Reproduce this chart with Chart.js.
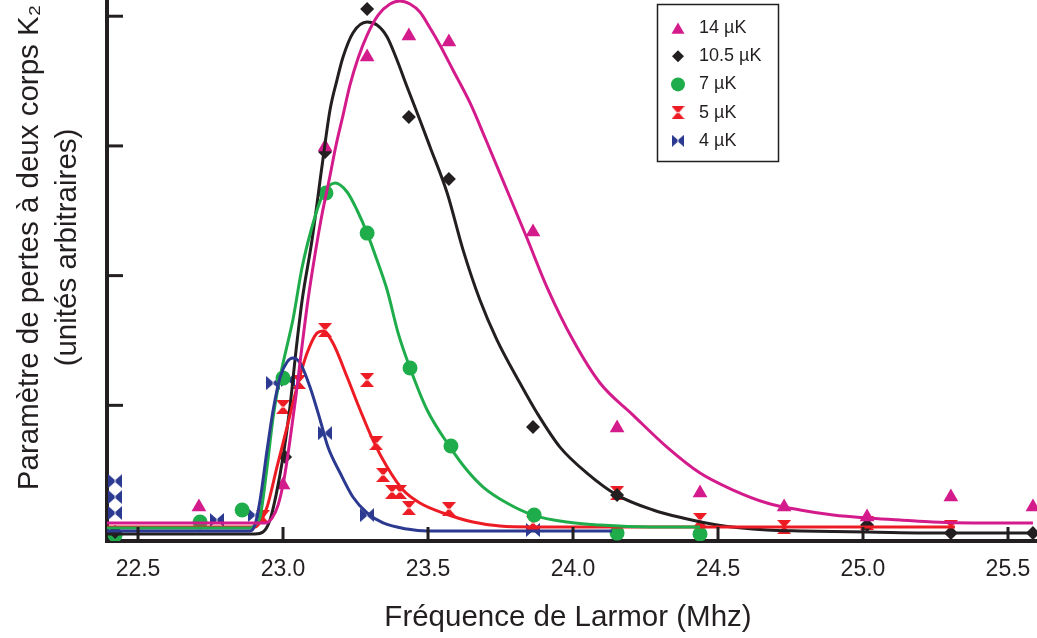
<!DOCTYPE html>
<html><head><meta charset="utf-8">
<script src="https://cdn.jsdelivr.net/npm/chart.js@4/dist/chart.umd.min.js"></script>
<style>html,body{margin:0;padding:0;background:#fff;}#wrap{width:1037px;height:638px;position:relative;}</style>
</head><body><div id="wrap"><canvas id="c" width="1037" height="638"></canvas></div>
<script>
const seriesNames = ['14 µK', '10.5 µK', '7 µK', '5 µK', '4 µK'];
const xTickValues = [22.5, 23.0, 23.5, 24.0, 24.5, 25.0, 25.5];
const yTickValues = [1, 2, 3, 4];
const xTitle = 'Fréquence de Larmor (Mhz)';
const yTitle = ['Paramètre de pertes à deux corps K₂', '(unités arbitraires)'];

// measured points [MHz, arbitrary units]
const m14 = [[22.710,0.216],[23.000,0.386],[23.145,2.992],[23.290,3.685],[23.434,3.847],[23.572,3.801],[23.862,2.336],[24.152,0.825],[24.438,0.324],[24.728,0.216],[25.014,0.139],[25.303,0.293],[25.586,0.216]];
const m10 = [[22.421,0.023],[23.007,0.601],[23.145,2.953],[23.290,4.056],[23.434,3.223],[23.572,2.745],[23.862,0.833],[24.152,0.308],[25.014,0.077],[25.303,0.015],[25.586,0.015]];
const m7 = [[22.421,0.000],[22.714,0.100],[22.859,0.193],[23.000,1.210],[23.148,2.637],[23.290,2.328],[23.438,1.288],[23.579,0.686],[23.866,0.154],[24.152,0.015],[24.438,0.008]];
const m5 = [[22.931,0.139],[23.000,0.987],[23.055,1.180],[23.145,1.581],[23.290,1.195],[23.321,0.709],[23.345,0.463],[23.376,0.332],[23.403,0.332],[23.434,0.208],[23.572,0.200],[23.862,0.093],[24.152,0.324],[24.438,0.116],[24.728,0.062],[25.014,0.093],[25.303,0.062]];
const m4 = [[22.421,0.416],[22.421,0.293],[22.421,0.170],[22.772,0.116],[22.903,0.154],[22.966,1.172],[23.017,1.195],[23.145,0.786],[23.290,0.154],[23.862,0.039]];

// fitted curves
const fit14 = [[22.393,0.093],[22.938,0.093],[22.962,0.131],[22.983,0.231],[23.003,0.424],[23.024,0.732],[23.045,1.079],[23.066,1.465],[23.086,1.812],[23.110,2.159],[23.134,2.467],[23.159,2.737],[23.183,3.007],[23.207,3.238],[23.231,3.470],[23.259,3.678],[23.290,3.855],[23.328,4.009],[23.369,4.094],[23.403,4.117],[23.438,4.094],[23.472,4.032],[23.507,3.909],[23.541,3.778],[23.586,3.585],[23.645,3.331],[23.697,3.061],[23.772,2.660],[23.841,2.290],[23.910,1.912],[24.000,1.503],[24.093,1.172],[24.207,0.925],[24.324,0.678],[24.438,0.478],[24.552,0.347],[24.669,0.247],[24.783,0.193],[24.897,0.154],[25.014,0.131],[25.128,0.116],[25.241,0.100],[25.379,0.093],[25.586,0.093]];
const fit10 = [[22.393,0.008],[22.903,0.008],[22.931,0.023],[22.955,0.116],[22.976,0.308],[23.000,0.601],[23.024,0.990],[23.045,1.426],[23.066,1.812],[23.100,2.274],[23.134,2.837],[23.162,3.277],[23.186,3.508],[23.207,3.685],[23.241,3.871],[23.290,3.955],[23.324,3.932],[23.359,3.840],[23.393,3.662],[23.428,3.454],[23.472,3.200],[23.507,2.992],[23.566,2.637],[23.621,2.197],[23.679,1.812],[23.738,1.503],[23.817,1.172],[23.876,0.941],[23.955,0.678],[24.048,0.478],[24.152,0.308],[24.276,0.193],[24.379,0.131],[24.497,0.077],[24.669,0.039],[24.783,0.031],[25.014,0.023],[25.300,0.015],[25.586,0.015]];
const fit7 = [[22.393,0.054],[22.886,0.054],[22.910,0.093],[22.921,0.139],[22.945,0.524],[22.966,0.910],[22.990,1.218],[23.024,1.557],[23.034,1.658],[23.066,2.066],[23.100,2.375],[23.134,2.606],[23.179,2.714],[23.221,2.645],[23.255,2.506],[23.290,2.328],[23.324,2.120],[23.359,1.889],[23.397,1.557],[23.438,1.288],[23.497,0.964],[23.576,0.678],[23.634,0.501],[23.690,0.370],[23.772,0.247],[23.862,0.154],[23.979,0.100],[24.093,0.077],[24.266,0.062],[24.438,0.062]];
const fit5 = [[22.393,0.062],[22.903,0.062],[22.921,0.100],[22.945,0.216],[22.979,0.524],[23.014,0.833],[23.048,1.141],[23.083,1.403],[23.117,1.557],[23.138,1.573],[23.172,1.480],[23.221,1.218],[23.266,0.964],[23.310,0.732],[23.359,0.524],[23.414,0.347],[23.472,0.247],[23.552,0.170],[23.655,0.100],[23.748,0.069],[23.862,0.062],[25.317,0.062]];
const fit4 = [[22.393,0.031],[22.886,0.031],[22.903,0.077],[22.921,0.270],[22.945,0.655],[22.966,0.964],[22.990,1.218],[23.014,1.334],[23.034,1.365],[23.059,1.326],[23.093,1.141],[23.128,0.887],[23.155,0.678],[23.197,0.478],[23.241,0.293],[23.290,0.170],[23.345,0.093],[23.428,0.046],[23.497,0.031],[24.134,0.031]];

const colors = ['#d41b8c', '#231f20', '#1fad4b', '#ed1c24', '#2b3990'];
const axisColor = '#231f20';
const FONT = '"Liberation Sans", Arial, Helvetica, sans-serif';

function makeHourglass(color, s) {
  const c = document.createElement('canvas'); c.width = s; c.height = s;
  const g = c.getContext('2d'); g.fillStyle = color; g.beginPath();
  g.moveTo(0, 0); g.lineTo(s, 0); g.lineTo(s/2, s/2 + 1); g.closePath();
  g.moveTo(0, s); g.lineTo(s, s); g.lineTo(s/2, s/2 - 1); g.closePath(); g.fill();
  return c;
}
function makeBowtie(color, s) {
  const c = document.createElement('canvas'); c.width = s; c.height = s;
  const g = c.getContext('2d'); g.fillStyle = color; g.beginPath();
  g.moveTo(0, 0); g.lineTo(0, s); g.lineTo(s/2 + 1, s/2); g.closePath();
  g.moveTo(s, 0); g.lineTo(s, s); g.lineTo(s/2 - 1, s/2); g.closePath(); g.fill();
  return c;
}
const styles = ['triangle', 'rectRot', 'circle', makeHourglass(colors[3], 14), makeBowtie(colors[4], 14)];
const radii = [8.5, 7, 7.5, 7, 7];
const legendStyles = ['triangle', 'rectRot', 'circle', makeHourglass(colors[3], 13), makeBowtie(colors[4], 12)];
const legendRadii = [7.5, 6, 7, 6, 6];

const toXY = a => a.map(p => ({x: p[0], y: p[1]}));
const markers = [m14, m10, m7, m5, m4];
const fits = [fit14, fit10, fit7, fit5, fit4];
const lineOrder = [0, 4, 2, 3, 1];

const datasets = [];
fits.forEach((f, i) => datasets.push({
  label: seriesNames[i] + ' fit', data: toXY(f), showLine: true, pointRadius: 0, pointHoverRadius: 0,
  borderColor: colors[i], borderWidth: 3, cubicInterpolationMode: 'monotone', fill: false, order: lineOrder[i]
}));
markers.forEach((m, i) => datasets.push({
  label: seriesNames[i], data: toXY(m), showLine: false, pointStyle: styles[i], pointRadius: radii[i],
  pointBackgroundColor: colors[i], pointBorderWidth: 0, pointBorderColor: colors[i], order: 10 + i
}));

function shiftTitle(scale, dx, dy) {
  if (scale.__shifted) return;
  const orig = scale.drawTitle;
  scale.drawTitle = function () { this.ctx.save(); this.ctx.translate(dx, dy); orig.apply(this, arguments); this.ctx.restore(); };
  scale.__shifted = true;
}
function zeroPad(s) { s.paddingLeft = 0; s.paddingRight = 0; s.paddingTop = 0; s.paddingBottom = 0; }

const decor = {
  id: 'decor',
  beforeDraw(chart) {
    shiftTitle(chart.scales.y, 2, -23);
    shiftTitle(chart.scales.x, -4, 0);
  },
  afterDraw(chart) {
    const ctx = chart.ctx, xs = chart.scales.x, ys = chart.scales.y, a = chart.chartArea;
    ctx.save();
    ctx.strokeStyle = axisColor; ctx.lineWidth = 3; ctx.lineCap = 'butt';
    xTickValues.forEach(v => { const px = xs.getPixelForValue(v); ctx.beginPath(); ctx.moveTo(px, a.bottom); ctx.lineTo(px, a.bottom - 14); ctx.stroke(); });
    yTickValues.forEach(v => { const py = ys.getPixelForValue(v); ctx.beginPath(); ctx.moveTo(a.left, py); ctx.lineTo(a.left + 16, py); ctx.stroke(); });
    // legend
    const lx = 657.5, ly = 4.5, lw = 121, lh = 157;
    ctx.fillStyle = '#fff'; ctx.fillRect(lx, ly, lw, lh);
    ctx.lineWidth = 1.5; ctx.strokeStyle = axisColor; ctx.strokeRect(lx, ly, lw, lh);
    ctx.font = '18px ' + FONT; ctx.textBaseline = 'middle'; ctx.textAlign = 'left';
    seriesNames.forEach((name, i) => {
      const cy = 28 + i * 28.2;
      ctx.fillStyle = colors[i];
      ctx.beginPath();
      Chart.helpers.drawPoint(ctx, {pointStyle: legendStyles[i], radius: legendRadii[i], rotation: 0, borderWidth: 0}, 678, cy + (i === 0 ? 2 : 0));
      ctx.fillStyle = axisColor;
      ctx.fillText(name, 699, cy);
    });
    ctx.restore();
  }
};

new Chart(document.getElementById('c'), {
  type: 'scatter',
  data: { datasets },
  plugins: [decor],
  options: {
    responsive: false, animation: false, devicePixelRatio: 1,
    layout: { padding: 0, autoPadding: false },
    plugins: { legend: { display: false }, tooltip: { enabled: false } },
    scales: {
      x: {
        type: 'linear', min: 22.393, max: 25.6,
        afterBuildTicks: s => { s.ticks = xTickValues.map(v => ({value: v})); },
        afterFit: s => { s.height = 97; zeroPad(s); },
        grid: { display: false, drawTicks: false },
        border: { display: true, width: 4, color: axisColor },
        ticks: { padding: 15, color: axisColor, font: { family: FONT, size: 23 }, callback: v => Number(v).toFixed(1), maxRotation: 0, autoSkip: false },
        title: { display: true, text: xTitle, color: axisColor, font: { family: FONT, size: 29.5, lineHeight: 1.2 }, padding: { top: 0, bottom: 2 } }
      },
      y: {
        type: 'linear', min: -0.046, max: 4.125,
        afterBuildTicks: s => { s.ticks = yTickValues.map(v => ({value: v})); },
        afterFit: s => { s.width = 107; zeroPad(s); },
        grid: { display: false, drawTicks: false },
        border: { display: true, width: 4, color: axisColor },
        ticks: { display: false },
        title: { display: true, text: yTitle, color: axisColor, font: { family: FONT, size: 29.5, lineHeight: 1.29 }, padding: { top: 9, bottom: 0 } }
      }
    }
  }
});
</script></body></html>
